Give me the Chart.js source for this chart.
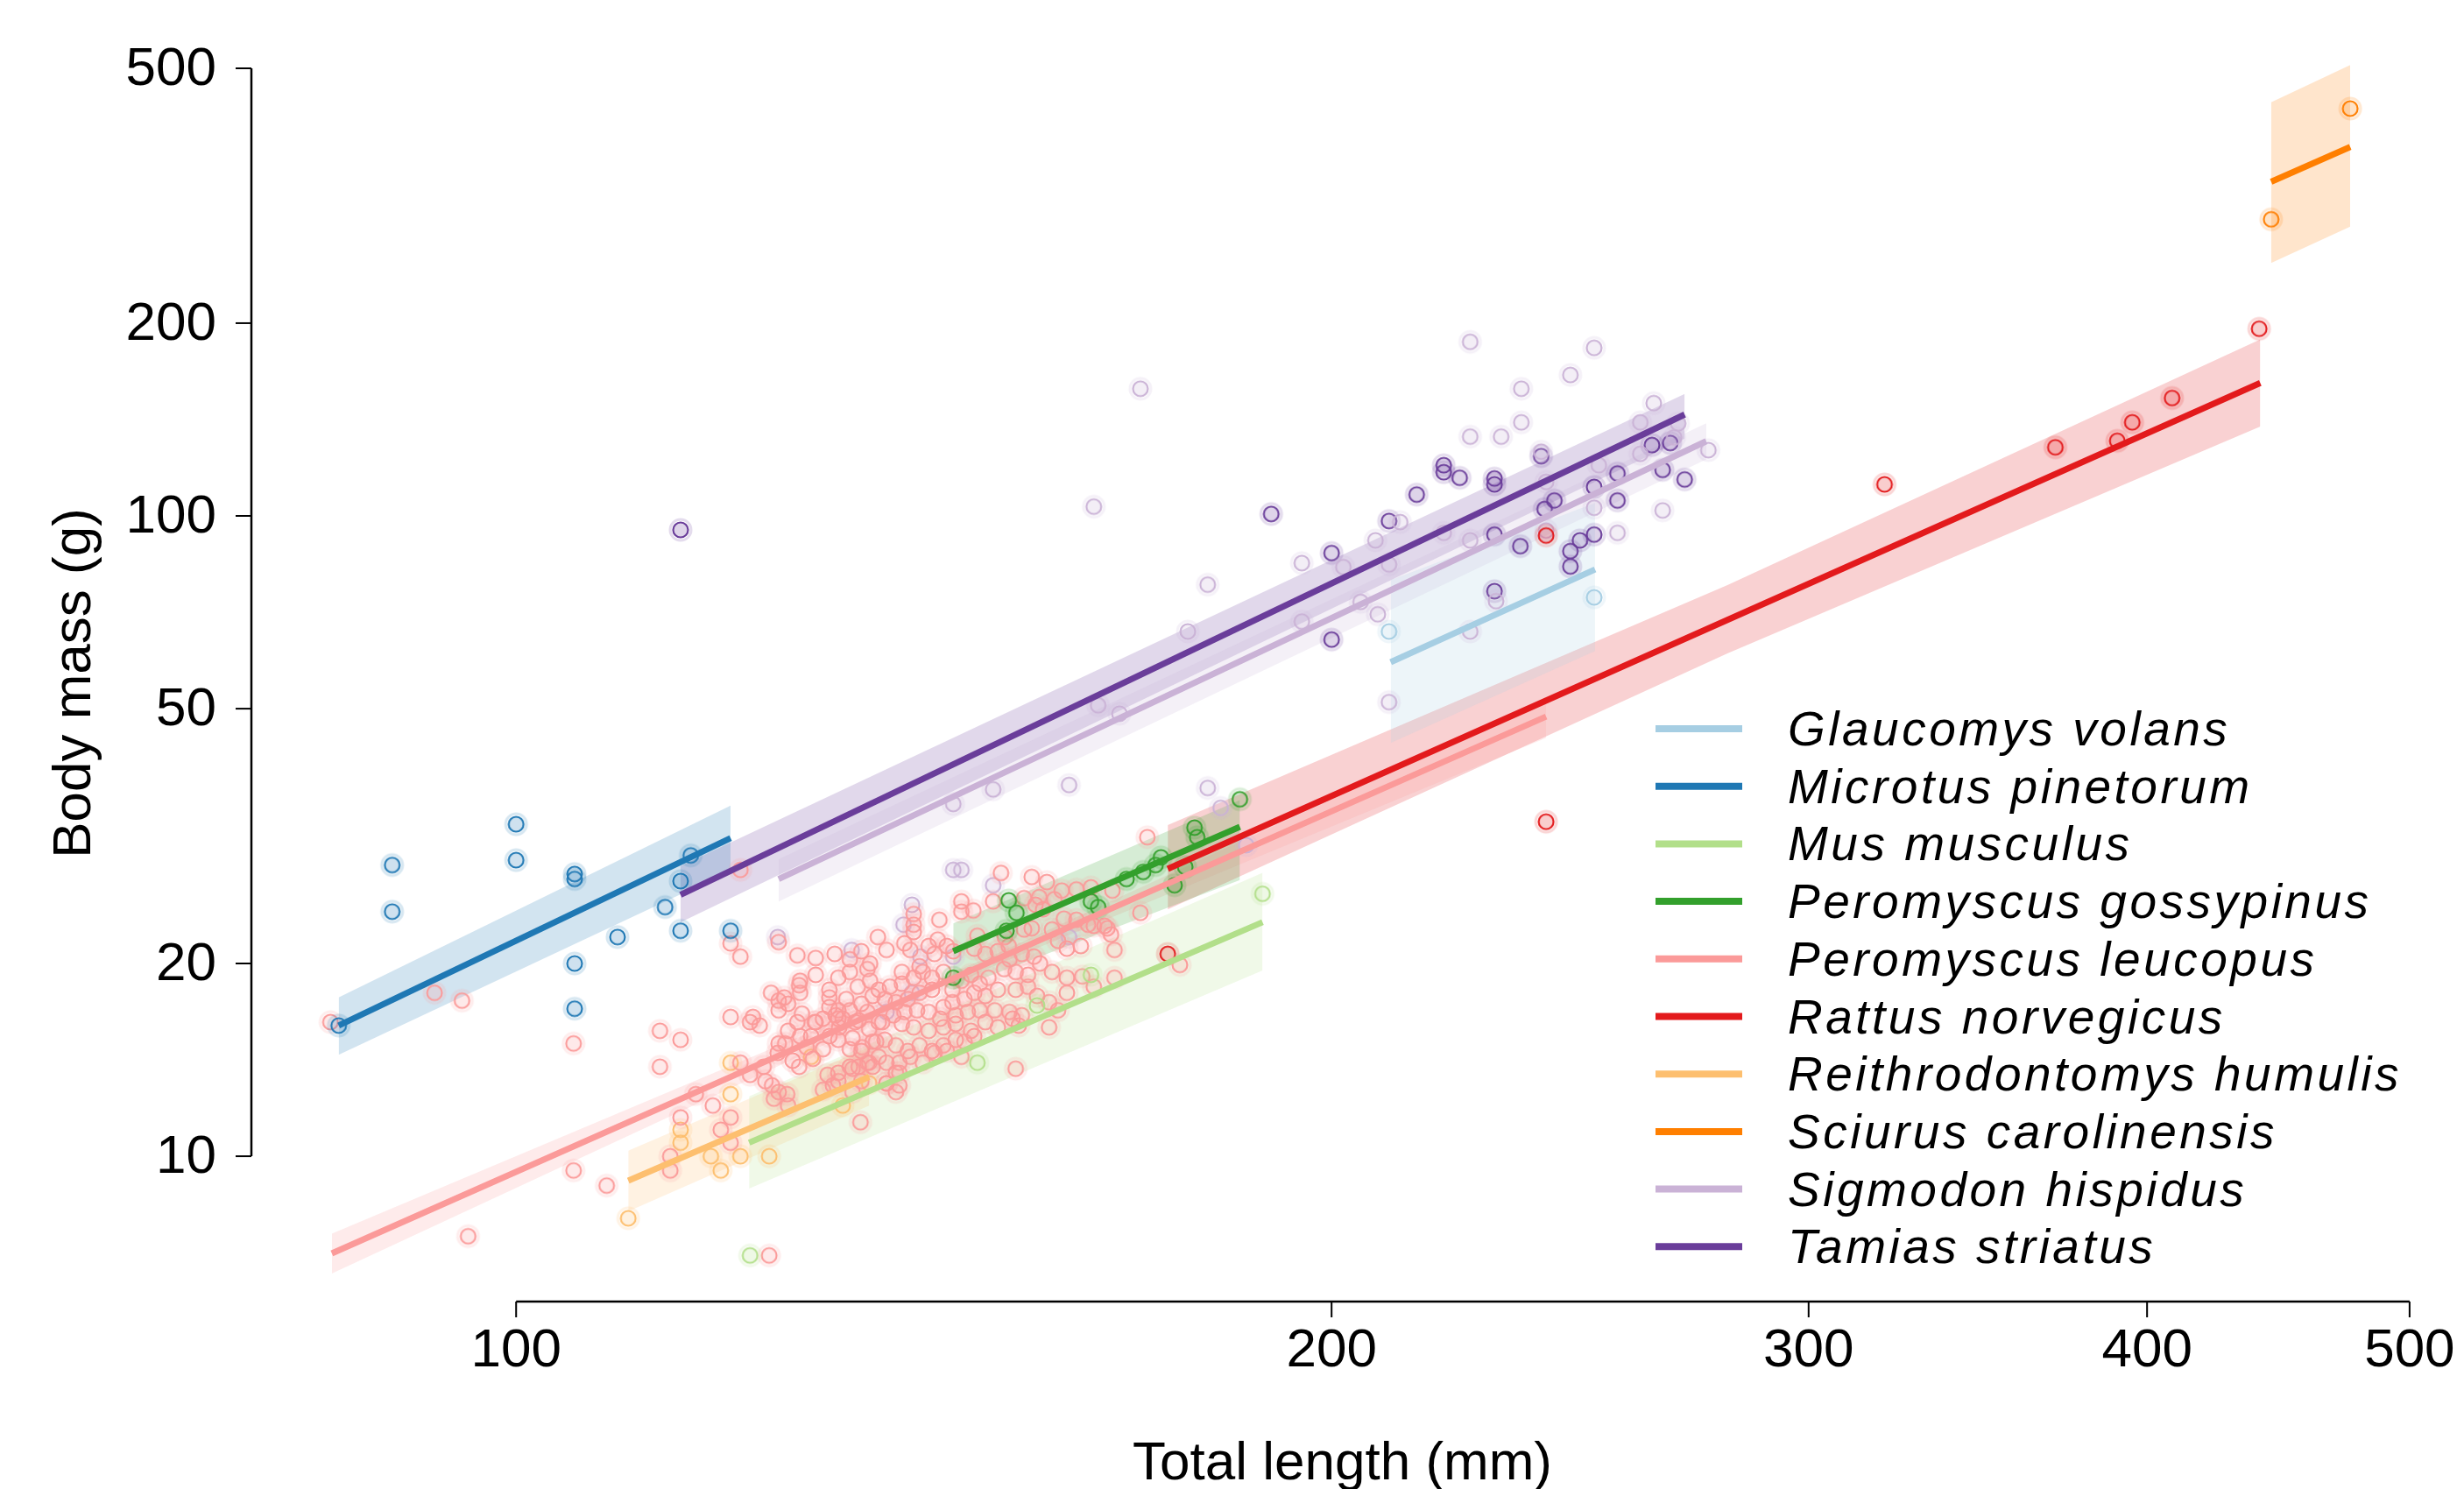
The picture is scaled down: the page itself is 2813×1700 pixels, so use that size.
<!DOCTYPE html>
<html>
<head>
<meta charset="utf-8">
<title>Body mass vs total length</title>
<script src="https://cdn.jsdelivr.net/npm/chart.js@4.4.0/dist/chart.umd.min.js"></script>
<style>
  html, body { margin: 0; padding: 0; background: #fff; }
  canvas { display: block; }
</style>
</head>
<body>
<canvas id="lengthMassChart" width="2813" height="1700"></canvas>
<script>
// Body mass vs total length, log-log, one fit per species

const speciesNames = [
    'Glaucomys volans', 'Microtus pinetorum', 'Mus musculus', 'Peromyscus gossypinus',
    'Peromyscus leucopus', 'Rattus norvegicus', 'Reithrodontomys humulis',
    'Sciurus carolinensis', 'Sigmodon hispidus', 'Tamias striatus'
];
const speciesColors = [
    '#a6cee3', '#1f78b4', '#b2df8a', '#33a02c', '#fb9a99',
    '#e31a1c', '#fdbf6f', '#ff7f00', '#cab2d6', '#6a3d9a'
];

const xTicks = [100, 200, 300, 400, 500];
const yTicks = [10, 20, 50, 100, 200, 500];

// fitted line and confidence band (x in mm, y in g)
const fitX = [[210.3, 250.2], [86, 120], [121.9, 188.6], [145, 185], [85.5, 150, 240],
    [174, 280, 440.4], [110, 135], [444.5, 475.4], [125, 275], [115, 270]];
const fitY = [[59.1, 82.5], [16.0, 31.4], [10.5, 23.2], [20.9, 32.7], [7.05, 20.2, 48.6],
    [28.1, 68.8, 161.3], [9.16, 13.3], [332.5, 377], [27.1, 130.8], [25.6, 144]];
const bandUpper = [[79.4, 104.8], [17.7, 35.3], [12.4, 27.7], [23.1, 36.0], [7.57, 20.6, 51.4],
    [32.9, 78, 188.6], [10.2, 14.8], [442.6, 506], [29.1, 139.5], [28.4, 155]];
const bandLower = [[44.2, 61.5], [14.4, 27.9], [8.9, 19.5], [18.2, 27.0], [6.56, 19.8, 45.0],
    [24.3, 61, 137.9], [8.2, 12.0], [248.3, 283], [25.0, 122.5], [23.2, 132]];

// observations [length, mass]
const ptsGlaucomys = [[210, 66], [250, 74.6]];
const ptsMicrotus = [[90, 28.5], [90, 24.1], [100, 33.0], [100, 29.0], [105.1, 27.6], [105.1, 27.1],
    [105.1, 20.0], [105.1, 17.0], [109, 22.0], [113.5, 24.5], [115, 22.5], [115, 26.9],
    [116, 29.5], [120, 22.5], [86, 16.0]];
const ptsMus = [[122, 7.0], [188.6, 25.7], [163, 19.2], [155.7, 17.2], [148, 14.0]];
const ptsGossypinus = [[185, 36.1], [178, 32.6], [178.4, 31.5], [173, 29.3], [172.2, 28.5],
    [170.4, 27.8], [168, 27.1], [176.6, 28.3], [175, 26.5], [163, 25.0], [164, 24.5],
    [152, 25.1], [153, 24.0], [151.7, 22.5], [145, 19.0]];
const ptsLeucopus = [
    [85.4, 16.2], [93.3, 18.0], [95.5, 17.5], [96, 7.5], [105, 15.0], [105, 9.5], [108, 9.0],
    [113, 15.7], [115, 15.2], [113, 13.8], [114, 10.0], [114, 9.5], [115, 11.5], [116.5, 12.5],
    [118.2, 12.0], [120, 11.5], [119, 11.0], [120, 10.5], [120, 21.5], [121, 20.5], [121, 28],
    [120, 16.5], [122.3, 16.5], [122, 16.2], [123, 16.0], [124, 7.0], [121, 14.0], [122, 13.4],
    [125, 15.0], [124.9, 14.5], [125.7, 15.0], [123.4, 13.8], [123.6, 13.1], [124.3, 12.9],
    [125, 12.6], [124.5, 12.3], [125.9, 12.5], [126, 12.0], [126.5, 14.1], [127.2, 13.8],
    [128.7, 14.2], [128, 14.8], [128.5, 15.4], [128.9, 16.2], [129.8, 16.4], [131.2, 16.6],
    [132, 16.4], [129.8, 14.7], [130.3, 13.4], [130.9, 12.9], [129.8, 12.7], [133.1, 13.7],
    [133.8, 13.8], [135, 14.0], [134.2, 14.8], [133.1, 15.3], [135.8, 15.1], [135, 15.8],
    [136.5, 16.2], [133.8, 16.3], [131.6, 15.9], [137, 13.0], [138.1, 12.6], [138.1, 13.5],
    [137, 14.0], [134, 11.3],
    [125, 21.6], [127, 20.6], [125, 17.5], [125, 16.9], [126, 17.3], [127.3, 18.0], [127.2, 18.5],
    [129, 19.2], [130.5, 18.2], [130.5, 17.7], [131.5, 16.9], [130.5, 17.1], [129, 20.4],
    [127.3, 18.8], [124.2, 18.0], [125.6, 17.7], [127.5, 16.7], [129, 16.2], [127, 16.2],
    [126, 15.7], [127.3, 15.4], [130.5, 15.4], [151, 27.7],
    [155, 27.3], [157, 26.8], [159, 26.0], [161, 26.1], [163, 26.3], [150, 25.0], [146, 25.0],
    [146, 24.1], [147.5, 24.2], [156, 25.4], [158, 25.2], [154, 25.3], [155.5, 24.7], [156.5, 24.3],
    [143.3, 23.4], [140.2, 23.9], [140.2, 23.0], [140.2, 22.4], [136, 22.0], [137, 21.0],
    [148, 22.1], [151.5, 22.0], [152, 21.3], [154, 22.6], [155, 22.7], [159.3, 23.5], [161, 23.4],
    [162.6, 23.0], [157.7, 22.6], [158.5, 21.7], [159.7, 21.1], [161.6, 21.3], [163.4, 22.9],
    [131.1, 20.7], [132.8, 20.3], [134.1, 20.9], [135.1, 20.0], [139.1, 21.5], [139.8, 21.0],
    [142, 21.3], [143.1, 21.8], [144.2, 21.3], [145, 20.9], [142.7, 20.7], [140.9, 19.8],
    [138.8, 19.4], [147.6, 21.1], [149, 20.7], [150.6, 20.9], [152.1, 20.3], [153.7, 20.7],
    [155.3, 20.5], [156.1, 20.0], [152.9, 19.4], [151.4, 19.6], [154.5, 19.2], [157.7, 19.4],
    [159.7, 19.0], [161.8, 19.1], [163.4, 18.4],
    [131.5, 19.0], [132.8, 19.4], [134.8, 19.6], [135.1, 18.8], [133.7, 18.4], [132.4, 17.6],
    [136.1, 18.2], [137.4, 18.4], [138.8, 18.6], [140.2, 19.0], [141.3, 19.4], [142.4, 19.0],
    [143.8, 19.4], [142.4, 18.2], [140.9, 18.0], [139.5, 17.6], [138.1, 17.4], [136.8, 17.6],
    [135.4, 17.8], [134.1, 17.3], [132.8, 16.9], [146, 18.8], [147.2, 19.2], [148.3, 18.6],
    [149.4, 19.0], [150.6, 18.2], [149, 17.8], [147.6, 18.0], [146.4, 17.6], [144.9, 18.2],
    [144.9, 17.4], [143.8, 17.1], [152.9, 18.2], [154.5, 18.4], [155.7, 17.8], [157.3, 17.4],
    [159.7, 18.0], [158.5, 16.9],
    [131.5, 16.4], [133.4, 16.2], [134.8, 16.8], [136.1, 16.2], [137.8, 16.6], [139.1, 16.8],
    [140.6, 16.9], [142, 16.8], [143.4, 16.4], [145.3, 16.6], [146.8, 16.8], [148.3, 16.9],
    [150.2, 16.9], [152.1, 16.8], [153.7, 16.6], [138.8, 16.1], [140.2, 15.9], [142, 15.7],
    [143.8, 15.9], [145.3, 16.1], [147.2, 15.7], [149, 16.2], [150.6, 15.9], [152.5, 16.4],
    [131.5, 15.2], [132.8, 14.7], [134.1, 14.6], [135.4, 15.1], [136.8, 15.2], [138.1, 14.9],
    [139.5, 14.6], [140.9, 14.9], [142.4, 14.6], [143.8, 14.9], [145.3, 15.2], [146.4, 15.1],
    [147.6, 15.4], [138.5, 14.0], [139.8, 14.3], [141.3, 14.0], [142.7, 14.5], [144.2, 14.6],
    [146, 14.3], [134.8, 14.0], [136.1, 14.3], [153.3, 16.0], [157.3, 15.9], [152.9, 13.7],
    [131.5, 13.5], [132.8, 13.8], [134.1, 13.1], [135.4, 13.8], [137, 13.0], [138.5, 13.5],
    [138.5, 12.9], [133.1, 12.6], [131.5, 13.1],
    [166, 26.0], [171, 31.5], [170, 24.0], [164.9, 22.9], [165.8, 22.2], [166.3, 21.0],
    [165.3, 22.7], [166.3, 19.0], [175.8, 19.9]
];
const ptsRattus = [[440, 196], [408.6, 152.8], [395, 140], [390, 131], [370, 128], [320, 112],
    [240, 33.3], [174, 20.7], [240, 93.2]];
const ptsReithrodontomys = [[110, 8.0], [115, 11.0], [115, 10.5], [118, 10.0], [121, 10.0],
    [124, 10.0], [119, 9.5], [120, 12.5], [120, 14.0], [128.5, 14.3], [132, 12.0], [135, 13.0]];
const ptsSciurus = [[444.5, 290.5], [475.4, 432.6]];
const ptsSigmodon = [[170, 158], [163.4, 103.4], [225, 187], [250, 183], [245, 166], [235, 158],
    [235, 140], [225, 133], [231, 133], [263, 150], [260, 140], [268.5, 139.5], [267.6, 132.6],
    [260, 125], [275.5, 126.7], [251, 120], [239, 126], [240, 113], [250, 103], [265, 102],
    [255, 94.1], [240, 94.9], [225, 91.6], [220, 94.1], [207.6, 91.6], [212, 97.8], [202, 83.2],
    [195, 84.4], [180, 78.1], [210, 84], [230, 73.6], [208, 70.2], [225, 66], [205, 73.4],
    [195, 68.4], [177, 66], [164, 50.6], [167, 49.1], [160, 38], [180, 37.6], [182, 35],
    [186, 30.6], [210, 51.2], [145, 35.5], [150, 37.4], [145, 28], [146, 28], [150, 26.5],
    [140, 24.7], [139, 23], [124.9, 22], [133, 21], [141, 20.5], [145, 20.5], [140, 18],
    [137, 16.8], [160, 22]];
const ptsTamias = [[190, 100.7], [200, 87.5], [200, 64.1], [210, 98.2], [215, 108], [220, 120],
    [220, 117], [223, 114.7], [229.7, 114.4], [229.7, 112], [229.7, 93.5], [229.7, 76.3],
    [234.8, 89.7], [239, 124], [239.7, 102.5], [241.7, 105.7], [245, 88.1], [245, 83.4],
    [247, 91.6], [250, 111], [250, 93.5], [255, 116.5], [255, 105.7], [262.6, 129], [266.7, 130],
    [265, 118], [270, 114], [115, 95.1]];

const speciesPoints = [ptsGlaucomys, ptsMicrotus, ptsMus, ptsGossypinus, ptsLeucopus,
    ptsRattus, ptsReithrodontomys, ptsSciurus, ptsSigmodon, ptsTamias];

const FONT = '"Liberation Sans", Arial, Helvetica, sans-serif';

function rgba(hex, a) {
    const n = parseInt(hex.slice(1), 16);
    return `rgba(${(n >> 16) & 255}, ${(n >> 8) & 255}, ${n & 255}, ${a})`;
}

// open circle with a faint halo, used as point style
function makeMarker(hex) {
    const cv = document.createElement('canvas');
    cv.width = 30;
    cv.height = 30;
    const g = cv.getContext('2d');
    g.strokeStyle = rgba(hex, 0.18);
    g.lineWidth = 3;
    g.beginPath();
    g.arc(15, 15, 12, 0, Math.PI * 2);
    g.stroke();
    g.fillStyle = rgba(hex, 0.22);
    g.beginPath();
    g.arc(15, 15, 8.5, 0, Math.PI * 2);
    g.fill();
    g.strokeStyle = hex;
    g.lineWidth = 2.2;
    g.stroke();
    return cv;
}

function buildDatasets() {
    const datasets = [];
    speciesNames.forEach((name, i) => {
        const color = speciesColors[i];
        datasets.push({
            type: 'line',
            label: name + ' upper',
            data: fitX[i].map((x, k) => ({ x, y: bandUpper[i][k] })),
            borderWidth: 0,
            pointRadius: 0,
            backgroundColor: rgba(color, 0.2),
            fill: '+1',
            order: 3
        });
        datasets.push({
            type: 'line',
            label: name + ' lower',
            data: fitX[i].map((x, k) => ({ x, y: bandLower[i][k] })),
            borderWidth: 0,
            pointRadius: 0,
            fill: false,
            order: 3
        });
        datasets.push({
            type: 'scatter',
            label: name,
            data: speciesPoints[i].map(p => ({ x: p[0], y: p[1] })),
            pointStyle: makeMarker(color),
            pointRadius: 9,
            order: 2
        });
        datasets.push({
            type: 'line',
            label: name + ' fit',
            data: fitX[i].map((x, k) => ({ x, y: fitY[i][k] })),
            borderColor: color,
            borderWidth: 7,
            borderCapStyle: 'butt',
            pointRadius: 0,
            fill: false,
            order: 1
        });
    });
    return datasets;
}

// detached axes, ticks, titles and legend
const frameAndLegend = {
    id: 'frameAndLegend',
    afterDraw(chart) {
        const { ctx, chartArea, scales: { x, y } } = chart;
        ctx.save();
        ctx.strokeStyle = '#000';
        ctx.fillStyle = '#000';

        // y spine and ticks
        ctx.lineWidth = 2.5;
        ctx.beginPath();
        ctx.moveTo(chartArea.left, y.getPixelForValue(yTicks[0]));
        ctx.lineTo(chartArea.left, y.getPixelForValue(yTicks[yTicks.length - 1]));
        ctx.stroke();
        ctx.lineWidth = 2;
        ctx.font = '62px ' + FONT;
        ctx.textAlign = 'right';
        ctx.textBaseline = 'middle';
        yTicks.forEach(v => {
            const py = y.getPixelForValue(v);
            ctx.beginPath();
            ctx.moveTo(chartArea.left - 18, py);
            ctx.lineTo(chartArea.left, py);
            ctx.stroke();
            ctx.fillText(String(v), chartArea.left - 40, py + 2);
        });

        // x spine and ticks
        ctx.lineWidth = 2.5;
        ctx.beginPath();
        ctx.moveTo(x.getPixelForValue(xTicks[0]), chartArea.bottom);
        ctx.lineTo(x.getPixelForValue(xTicks[xTicks.length - 1]), chartArea.bottom);
        ctx.stroke();
        ctx.lineWidth = 2;
        ctx.textAlign = 'center';
        ctx.textBaseline = 'alphabetic';
        xTicks.forEach(v => {
            const px = x.getPixelForValue(v);
            ctx.beginPath();
            ctx.moveTo(px, chartArea.bottom);
            ctx.lineTo(px, chartArea.bottom + 18);
            ctx.stroke();
            ctx.fillText(String(v), px, chartArea.bottom + 74);
        });

        // axis titles
        ctx.fillText('Total length (mm)', (chartArea.left + chartArea.right) / 2, 1689);
        ctx.save();
        ctx.translate(86, 780);
        ctx.rotate(-Math.PI / 2);
        ctx.textBaseline = 'middle';
        ctx.fillText('Body mass (g)', 0, 0);
        ctx.restore();

        // legend
        ctx.font = 'italic 55px ' + FONT;
        ctx.letterSpacing = '3.5px';
        ctx.textAlign = 'left';
        ctx.textBaseline = 'alphabetic';
        speciesNames.forEach((name, i) => {
            const ly = 832 + i * 65.7;
            ctx.strokeStyle = speciesColors[i];
            ctx.lineWidth = 8;
            ctx.beginPath();
            ctx.moveTo(1890, ly);
            ctx.lineTo(1989, ly);
            ctx.stroke();
            ctx.fillText(name, 2041, ly + 19);
        });
        ctx.restore();
    }
};

Chart.defaults.font.family = FONT;

new Chart(document.getElementById('lengthMassChart').getContext('2d'), {
    type: 'scatter',
    data: { datasets: buildDatasets() },
    options: {
        responsive: false,
        animation: false,
        devicePixelRatio: 1,
        layout: { padding: { left: 287, right: 35, top: 66, bottom: 214 } },
        scales: {
            x: { type: 'logarithmic', min: 79.85, max: 510.2, display: false },
            y: { type: 'logarithmic', min: 5.93, max: 519.3, display: false }
        },
        plugins: {
            legend: { display: false },
            tooltip: { enabled: false }
        }
    },
    plugins: [frameAndLegend]
});
</script>
</body>
</html>
